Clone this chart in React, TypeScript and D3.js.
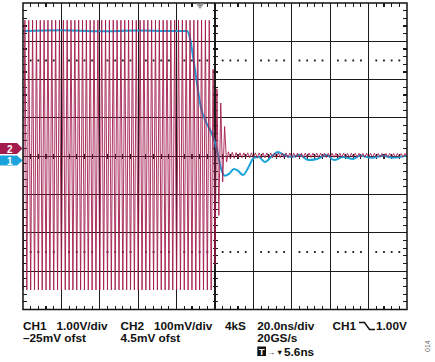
import React from 'react';
import * as d3 from 'd3';

// CH1 (1.00V/div) trace, time in ns, value in volts
const ch1Time = [-100, -80, -60, -40, -25, -14.6, -13.0, -11.5, -9.4, -7.3, -4.7, -2.1, 0, 1.6, 3.1, 5.2, 7.3, 9.9, 12.0, 14.6, 17.2, 20.3, 22.9, 26.0, 29.2, 32.8, 35.9, 39.6, 44.3, 48.4, 53.1, 58.3, 62.0, 66.7, 71.9, 75.5, 81.8, 87.5, 92.7, 99.5];
const ch1Volts = [3.27, 3.29, 3.26, 3.28, 3.27, 3.27, 3.08, 2.62, 1.91, 1.26, 0.9, 0.64, 0.35, 0.03, -0.31, -0.51, -0.46, -0.33, -0.38, -0.49, -0.31, -0.04, -0.02, -0.15, -0.02, 0.11, 0.03, -0.02, 0.03, -0.1, -0.07, 0.03, -0.1, -0.02, -0.07, 0.01, -0.04, 0.01, -0.04, 0.01];

// CH2 (100mV/div) envelope of the ringing signal, mV
const ch2EnvTime = [-100, -1.7, -0.9, 2.1, 4.3, 6.3, 12, 100];
const ch2HighMv = [355, 355, 209, 157, 113, 12, 9, 7];
const ch2LowMv = [-349, -349, -340, -148, -54, -8, -4, -2];
const ch2PeriodNs = 2.0;

const timeDivs = [-80, -60, -40, -20, 0, 20, 40, 60, 80];
const levelDivs = [-3, -2, -1, 0, 1, 2, 3];

const MAGENTA = '#a31c4d';
const CYAN = '#1ba3db';
const FONT = '"Liberation Sans", Arial, sans-serif';

const x = d3.scaleLinear().domain([-100, 100]).range([23, 407]);
const y = d3.scaleLinear().domain([-4, 4]).range([309.5, 3]);

const hiAt = d3.scaleLinear().domain(ch2EnvTime).range(ch2HighMv);
const loAt = d3.scaleLinear().domain(ch2EnvTime).range(ch2LowMv);

const ch2Points: [number, number][] = [];
for (let k = 0; ; k++) {
  const t = -100 + (k * ch2PeriodNs) / 2;
  if (t > 100) break;
  ch2Points.push([t, k % 2 === 0 ? loAt(t) : hiAt(t)]);
}

const ch1Line = d3
  .line<number>()
  .x((_, i) => x(ch1Time[i]))
  .y((v) => y(v))
  .curve(d3.curveMonotoneX);

const ch2Line = d3
  .line<[number, number]>()
  .x((d) => x(d[0]))
  .y((d) => y(d[1] / 100));

const minorX = d3.range(-100, 100.01, 4).filter((t) => Math.abs(t % 20) > 0.01);
const minorY = d3.range(-4, 4.001, 0.2).filter((v) => Math.abs(v - Math.round(v)) > 0.01);

export default function App() {
  const x0 = x(-100), x1 = x(100), y0 = y(4), y1 = y(-4);
  const cx = x(0), cy = y(0);
  const tick = 4;
  return (
    <svg width={435} height={362} style={{ position: 'absolute', left: 0, top: 0, background: '#fff' }}>
      {/* grid */}
      <g stroke="#1a1a1a" strokeWidth={1.1} shapeRendering="crispEdges">
        {timeDivs.map((t) => (
          <line key={'v' + t} x1={x(t)} x2={x(t)} y1={y0} y2={y1} />
        ))}
        {levelDivs.map((v) => (
          <line key={'h' + v} x1={x0} x2={x1} y1={y(v)} y2={y(v)} />
        ))}
        {minorX.map((t) => (
          <g key={'mx' + t}>
            <line x1={x(t)} x2={x(t)} y1={y0} y2={y0 + tick} />
            <line x1={x(t)} x2={x(t)} y1={y1} y2={y1 - tick} />
            <line x1={x(t)} x2={x(t)} y1={cy - 2.5} y2={cy + 2.5} />
          </g>
        ))}
        {minorY.map((v) => (
          <g key={'my' + v}>
            <line x1={x0} x2={x0 + tick} y1={y(v)} y2={y(v)} />
            <line x1={x1} x2={x1 - tick} y1={y(v)} y2={y(v)} />
            <line x1={cx - 2.5} x2={cx + 2.5} y1={y(v)} y2={y(v)} />
          </g>
        ))}
      </g>
      <g fill="#111">
        {[2.5, -2.5].map((v) =>
          minorX.map((t) => (
            <rect key={'d' + v + t} x={x(t) - 0.9} y={y(v) - 0.9} width={1.8} height={1.8} />
          ))
        )}
      </g>

      {/* traces */}
      <path d={ch1Line(ch1Volts) || ''} fill="none" stroke={CYAN} strokeWidth={2} />
      <path d={ch2Line(ch2Points) || ''} fill="none" stroke={MAGENTA} strokeWidth={0.9} />

      <rect x={x0} y={y0} width={x1 - x0} height={y1 - y0} fill="none" stroke="#111" strokeWidth={1.5} />

      {/* trigger position marker */}
      <path d={`M${x(-7.8) - 4},${y0 + 0.5} L${x(-7.8) + 4},${y0 + 0.5} L${x(-7.8)},${y0 + 6}Z`} fill="#9a9a9a" />

      {/* channel markers */}
      <path d="M0,143 H17 L22.5,148.5 L17,154 H0Z" fill={MAGENTA} />
      <text x={7} y={152.5} fill="#fff" fontFamily={FONT} fontWeight="bold" fontSize={10}>2</text>
      <path d="M0,155.5 H17 L22.5,160.5 L17,165.5 H0Z" fill={CYAN} />
      <text x={7} y={164.5} fill="#fff" fontFamily={FONT} fontWeight="bold" fontSize={10}>1</text>

      {/* readouts */}
      <g fontFamily={FONT} fontWeight="bold" fontSize={11.8} fill="#111">
        <text x={23} y={329.5}>CH1</text>
        <text x={56.5} y={329.5}>1.00V/div</text>
        <text x={120.5} y={329.5}>CH2</text>
        <text x={154} y={329.5}>100mV/div</text>
        <text x={23} y={341.8}>–25mV ofst</text>
        <text x={120.5} y={341.8}>4.5mV ofst</text>
        <text x={225} y={329.5}>4kS</text>
        <text x={257.3} y={329.5}>20.0ns/div</text>
        <text x={257.3} y={341.8}>20GS/s</text>
        <text x={332.5} y={329.5}>CH1</text>
        <text x={376} y={329.5}>1.00V</text>
        <text x={284} y={355.5}>5.6ns</text>
      </g>
      <path d="M359,322.5 H364.5 L369.5,329.5 H375" fill="none" stroke="#111" strokeWidth={1.5} />
      <rect x={257.3} y={346.5} width={8.7} height={9.5} fill="#111" />
      <text x={261.65} y={354.6} textAnchor="middle" fill="#fff" fontFamily={FONT} fontWeight="bold" fontSize={9.5}>T</text>
      <text x={267} y={354.5} fill="#111" fontFamily={FONT} fontWeight="bold" fontSize={8}>→</text>
      <text x={276} y={355} fill="#111" fontFamily={FONT} fontSize={7.5}>▼</text>
      <text x={0} y={0} transform="translate(430,352) rotate(-90)" fill="#666" fontFamily={FONT} fontSize={7}>014</text>
    </svg>
  );
}
